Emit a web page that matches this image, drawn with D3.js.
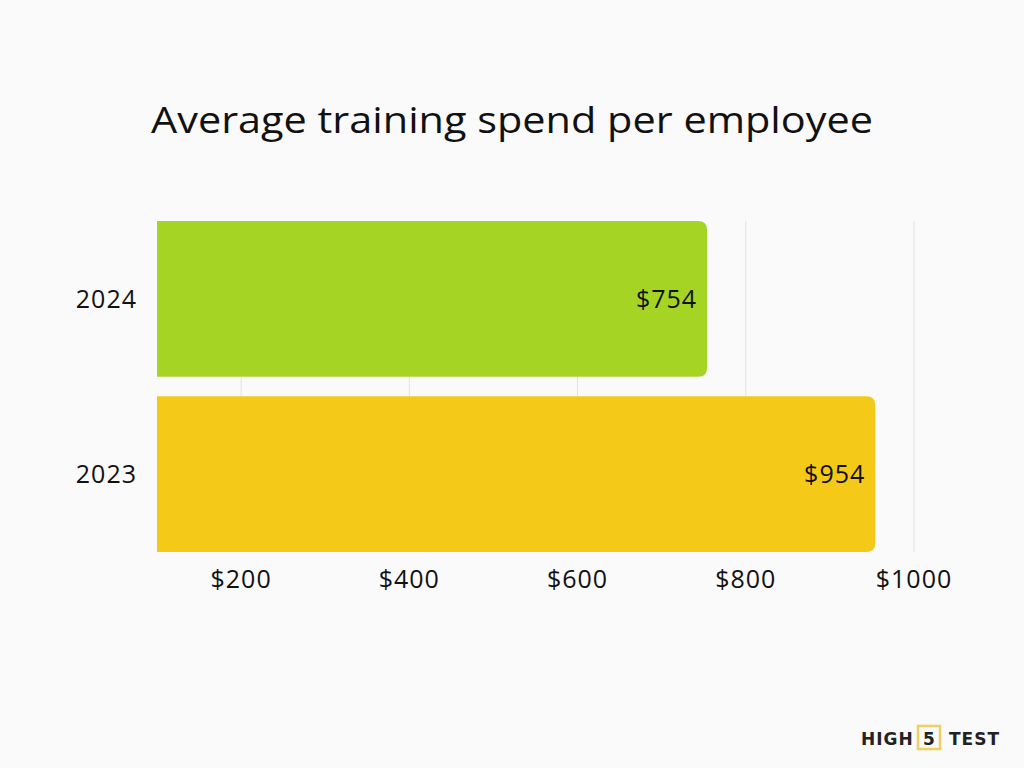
<!DOCTYPE html>
<html><head><meta charset="utf-8">
<script src="https://cdn.jsdelivr.net/npm/d3@7"></script>
<style>body{margin:0;background:#fafafa;}</style></head>
<body><svg id="c" width="1024" height="768"></svg>
<script>
const categories = ["2024","2023"];
const values = [754, 954];
const colors = ["#a6d424","#f5c918"];
const ticks = [200,400,600,800,1000];

const svg = d3.select("#c");
svg.append("rect").attr("width",1024).attr("height",768).attr("fill","#fafafa");
const x = d3.scaleLinear().domain([100,1000]).range([157,914]);
const y = d3.scaleBand().domain(categories).range([221,552]).paddingInner(0.11);
const font = "'Open Sans', sans-serif";

svg.append("text").attr("x",512).attr("y",133).attr("text-anchor","middle")
 .attr("font-family",font).attr("font-size",37).attr("fill","#111")
 .attr("textLength",722).attr("lengthAdjust","spacingAndGlyphs")
 .text("Average training spend per employee");

svg.selectAll(".g").data(ticks).join("line")
 .attr("x1",d=>x(d)).attr("x2",d=>x(d)).attr("y1",221).attr("y2",552)
 .attr("stroke","#e2e2e2").attr("stroke-width",1);

const r = 9;
svg.selectAll(".b").data(values).join("path")
 .attr("fill",(d,i)=>colors[i])
 .attr("d",(d,i)=>{
   const x0=x(100), x1=x(d), y0=y(categories[i]), h=y.bandwidth();
   return `M${x0},${y0}H${x1-r}Q${x1},${y0} ${x1},${y0+r}V${y0+h-r}Q${x1},${y0+h} ${x1-r},${y0+h}H${x0}Z`;
 });

const lab = sel => sel.attr("font-family",font).attr("font-size",25).attr("letter-spacing",1).attr("fill","#111");

svg.selectAll(".v").data(values).join("text")
 .attr("x",d=>x(d)-10).attr("y",(d,i)=>y(categories[i])+y.bandwidth()/2+9)
 .attr("text-anchor","end").call(lab).text(d=>"$"+d);

svg.selectAll(".c").data(categories).join("text")
 .attr("x",137).attr("y",d=>y(d)+y.bandwidth()/2+9)
 .attr("text-anchor","end").call(lab).text(d=>d);

svg.selectAll(".t").data(ticks).join("text")
 .attr("x",d=>x(d)).attr("y",588).attr("text-anchor","middle").call(lab).text(d=>"$"+d);

const lg = svg.append("g").attr("font-family","'DejaVu Sans', sans-serif").attr("font-weight","bold").attr("font-size",17).attr("fill","#222");
lg.append("text").attr("x",861).attr("y",745).attr("letter-spacing",1).text("HIGH");
lg.append("rect").attr("x",918).attr("y",726).attr("width",22).attr("height",23).attr("fill","none").attr("stroke","#f0d060").attr("stroke-width",2.5);
lg.append("text").attr("x",929).attr("y",745).attr("text-anchor","middle").text("5");
lg.append("text").attr("x",949).attr("y",745).attr("letter-spacing",1).text("TEST");
</script></body></html>
